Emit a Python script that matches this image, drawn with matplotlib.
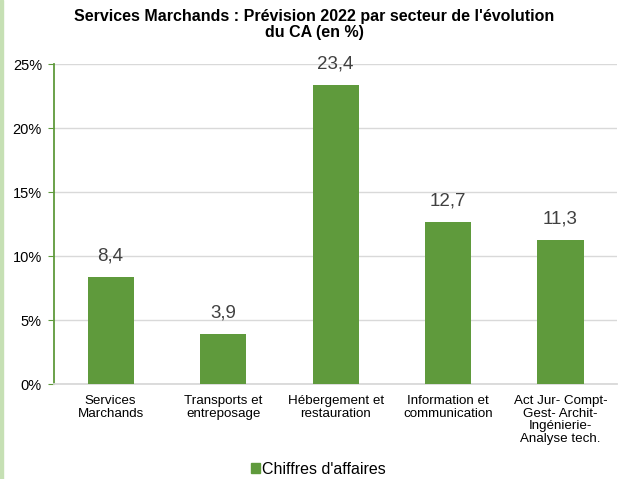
import matplotlib
matplotlib.use("Agg")
import matplotlib.pyplot as plt
import matplotlib.patches as mpatches
from matplotlib.ticker import FuncFormatter

plt.rcParams['font.family'] = ['Liberation Sans', 'DejaVu Sans']

categories = ["Services\nMarchands", "Transports et\nentreposage", "Hébergement et\nrestauration",
              "Information et\ncommunication", "Act Jur- Compt-\nGest- Archit-\nIngénierie-\nAnalyse tech."]
values = [8.4, 3.9, 23.4, 12.7, 11.3]
title = "Services Marchands : Prévision 2022 par secteur de l'évolution\ndu CA (en %)"
series_name = "Chiffres d'affaires"

green = "#5f9a3c"

fig = plt.figure(figsize=(6.18, 4.79), dpi=100)
ax = fig.add_axes([0.088, 0.198, 0.91, 0.668])

x = range(len(values))
ax.bar(x, values, width=0.41, color=green, zorder=3)
for xi, v in zip(x, values):
    ax.annotate(f"{v:.1f}".replace(".", ","), (xi, v), xytext=(0, 9), textcoords="offset points",
                ha="center", va="bottom", fontsize=13.5, color="#404040")

ax.set_xlim(-0.5, len(values) - 0.5)
ax.set_ylim(0, 25)
ax.set_yticks([0, 5, 10, 15, 20, 25])
ax.yaxis.set_major_formatter(FuncFormatter(lambda v, p: f"{int(v)}%"))
ax.yaxis.grid(True, color="#d9d9d9", linewidth=1, zorder=0)
ax.set_xticks(list(x))
ax.set_xticklabels(categories, fontsize=9.6, linespacing=1.05)
ax.tick_params(axis="x", length=0, pad=8)
ax.tick_params(axis="y", length=4, color=green, labelsize=10.5, pad=5)

for s in ["top", "right"]:
    ax.spines[s].set_visible(False)
ax.spines["left"].set_color(green)
ax.spines["left"].set_linewidth(1.3)
ax.spines["bottom"].set_color("#d9d9d9")
ax.spines["bottom"].set_linewidth(1.3)

fig.text(0.508, 0.982, title, ha="center", va="top", fontsize=11.5, fontweight="bold",
         linespacing=1.12)

handle = mpatches.Patch(color=green, label=series_name)
fig.legend(handles=[handle], loc="center", bbox_to_anchor=(0.515, 0.02), frameon=False,
           fontsize=11.5, handlelength=0.55, handleheight=0.55, handletextpad=0.1)

# thin light green strip on the left edge
fig.add_artist(mpatches.Rectangle((0, 0), 3 / 618, 1, transform=fig.transFigure,
                                  color="#c6e0b4", zorder=0))

fig.savefig("out.png", dpi=100)
